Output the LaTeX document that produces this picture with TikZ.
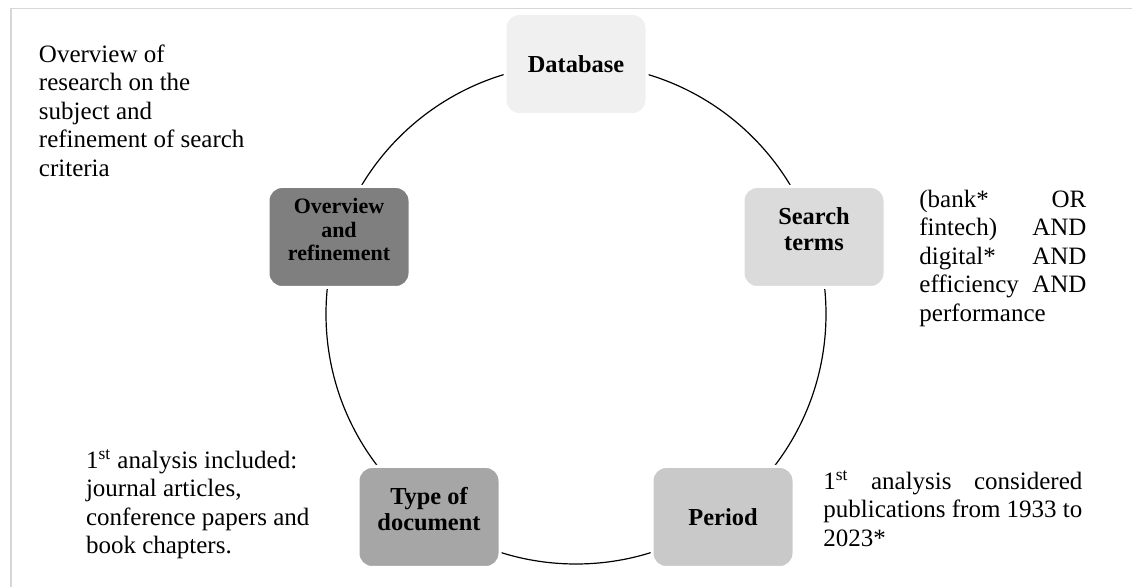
\documentclass[tikz,border=0pt]{standalone}
\usepackage{fontspec}
\setmainfont{Liberation Serif}
\definecolor{dbfill}{RGB}{240,240,240}
\definecolor{stfill}{RGB}{219,219,219}
\definecolor{ovfill}{RGB}{127,127,127}
\definecolor{tdfill}{RGB}{166,166,166}
\definecolor{pdfill}{RGB}{201,201,201}
\definecolor{framegray}{RGB}{215,215,215}
\newcommand\firstrl[1]{\rule{0pt}{#1}}
\newcommand\lastrl[1]{\rule[-#1]{0pt}{#1}}
\newcommand\notestrut{\rule{0pt}{10pt}}
\newcommand\jline[1]{\leavevmode\hbox to\hsize{\notestrut#1}\par}
\tikzset{
  stage/.style={rectangle, rounded corners=7pt, draw=white, line width=1.5pt,
    minimum width=71pt, minimum height=50.5pt, inner sep=1pt, align=center,
    font=\fontsize{12.2}{13}\selectfont\bfseries},
  note/.style={anchor=north west, inner sep=0pt, align=left,
    font=\fontsize{12.5}{14.25}\selectfont},
  ring/.style={draw=black, line width=0.6pt},
  frameline/.style={draw=framegray, line width=0.75pt}
}
\begin{document}
\begin{tikzpicture}[x=0.5pt,y=-0.5pt]
\useasboundingbox (0,0) rectangle (1132,587);
\draw[frameline] (11,587) -- (11,8.7) -- (1132,8.7);
\coordinate (c) at (576,314);
\draw[ring] (c) circle[radius=125pt];
\node[stage, fill=dbfill] (db) at (576,64) {Database};
\node[stage, fill=stfill] (st) at (814,237) {\firstrl{8.4pt}Search\\terms\lastrl{8.4pt}};
\node[stage, fill=pdfill] (pd) at (723,517) {Period};
\node[stage, fill=tdfill] (td) at (429,517) {\firstrl{8.4pt}Type of\\document\lastrl{8.4pt}};
\node[stage, fill=ovfill, font=\fontsize{11}{11.7}\selectfont\bfseries] (ov) at (339,237)
  {\firstrl{7.6pt}Overview\\and\\refinement\lastrl{7.6pt}};
\node[note] (ovnote) at (38.6,42) {\notestrut Overview of\\research on the\\subject and\\refinement of search\\criteria};
\node[note, text width=83.5pt] (stnote) at (919,187)
  {\jline{(bank*\hfill OR}\jline{fintech)\hfill AND}\jline{digital*\hfill AND}\jline{efficiency\hfill AND}\leavevmode\notestrut performance};
\node[note, text width=129.5pt] (pdnote) at (823,469)
  {\jline{1\textsuperscript{st}\hfill analysis\hfill considered}\jline{publications\hfill from\hfill 1933\hfill to}\leavevmode\notestrut 2023*};
\node[note] (tdnote) at (85.6,448)
  {\notestrut 1\textsuperscript{st} analysis included:\\journal articles,\\conference papers and\\book chapters.};
\end{tikzpicture}
\end{document}
